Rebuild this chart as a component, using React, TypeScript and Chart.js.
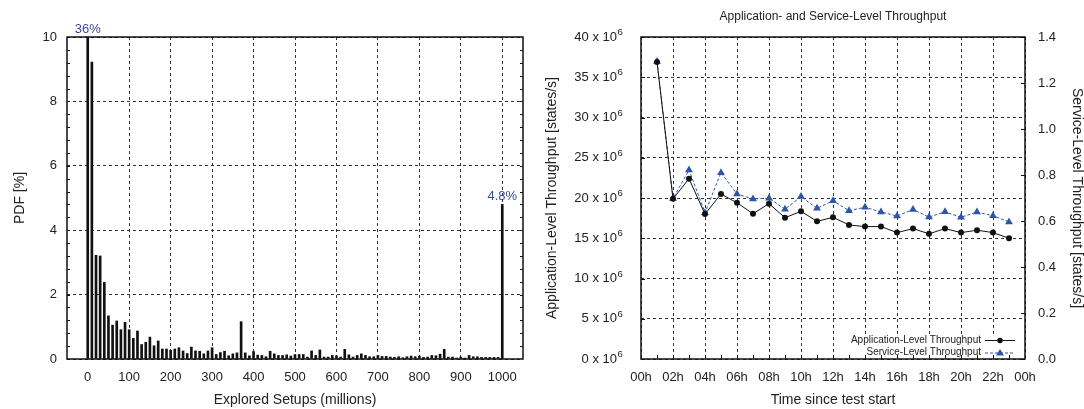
import React, { useEffect, useRef } from "react";
import { Chart, registerables } from "chart.js";
Chart.register(...registerables);

// ---------- Left chart data: PDF of explored setups ----------
const SETUP_BINS = [
  0, 10, 20, 30, 40, 50, 60, 70, 80, 90,
  100, 110, 120, 130, 140, 150, 160, 170, 180, 190,
  200, 210, 220, 230, 240, 250, 260, 270, 280, 290,
  300, 310, 320, 330, 340, 350, 360, 370, 380, 390,
  400, 410, 420, 430, 440, 450, 460, 470, 480, 490,
  500, 510, 520, 530, 540, 550, 560, 570, 580, 590,
  600, 610, 620, 630, 640, 650, 660, 670, 680, 690,
  700, 710, 720, 730, 740, 750, 760, 770, 780, 790,
  800, 810, 820, 830, 840, 850, 860, 870, 880, 890,
  900, 910, 920, 930, 940, 950, 960, 970, 980, 990,
  1000,
];
const PDF_VALUES = [
  36, 9.22, 3.22, 3.2, 2.38, 1.34, 1.05, 1.18, 0.91, 1.14,
  0.91, 0.64, 0.87, 0.45, 0.52, 0.68, 0.41, 0.56, 0.31, 0.31,
  0.27, 0.31, 0.35, 0.25, 0.17, 0.37, 0.25, 0.24, 0.16, 0.25,
  0.35, 0.14, 0.2, 0.24, 0.1, 0.16, 0.19, 1.16, 0.19, 0.1,
  0.23, 0.12, 0.11, 0.07, 0.24, 0.16, 0.11, 0.11, 0.13, 0.09,
  0.14, 0.14, 0.14, 0.06, 0.25, 0.11, 0.28, 0.06, 0.06, 0.11,
  0.1, 0.06, 0.3, 0.13, 0.06, 0.11, 0.16, 0.11, 0.07, 0.07,
  0.11, 0.08, 0.08, 0.06, 0.05, 0.07, 0.04, 0.07, 0.09, 0.07,
  0.09, 0.05, 0.06, 0.11, 0.1, 0.15, 0.3, 0.06, 0.06, 0.03,
  0.06, 0.03, 0.11, 0.07, 0.07, 0.05, 0.05, 0.05, 0.05, 0.05,
  4.8,
];
const SETUP_TICKS = [0, 100, 200, 300, 400, 500, 600, 700, 800, 900, 1000];
const PDF_TICKS = [0, 2, 4, 6, 8, 10];
const PEAK_LABELS = [
  { bin: 0, text: "36%" },
  { bin: 1000, text: "4.8%" },
];

// ---------- Right chart data: throughput ----------
const HOURS = [1, 2, 3, 4, 5, 6, 7, 8, 9, 10, 11, 12, 13, 14, 15, 16, 17, 18, 19, 20, 21, 22, 23];
// Application-level throughput in units of 10^6 states/s
const APP_THROUGHPUT = [
  36.9, 19.9, 22.4, 18.0, 20.5, 19.4, 18.05, 19.3, 17.55, 18.35, 17.1, 17.6,
  16.65, 16.45, 16.45, 15.7, 16.2, 15.55, 16.2, 15.7, 16.0, 15.7, 15.0,
];
// Service-level throughput in states/s
const SERVICE_THROUGHPUT = [
  1.293, 0.698, 0.822, 0.636, 0.81, 0.717, 0.696, 0.699, 0.651, 0.706, 0.655, 0.688,
  0.645, 0.66, 0.639, 0.622, 0.65, 0.617, 0.64, 0.616, 0.639, 0.623, 0.596,
];
const TIME_TICKS = [0, 2, 4, 6, 8, 10, 12, 14, 16, 18, 20, 22, 24];
const APP_TICKS = [0, 5, 10, 15, 20, 25, 30, 35, 40];
const APP_EXPONENT = "6";
const SERVICE_TICKS = [0, 0.2, 0.4, 0.6, 0.8, 1.0, 1.2, 1.4];
const RIGHT_TITLE = "Application- and Service-Level Throughput";

const FONT = "'Liberation Sans', Arial, Helvetica, sans-serif";
const TEXT = "#222";
const GRID = "#333";
const BLUE = "#2c55a8";
const LABEL_BLUE = "#3a4aa2";
const APP_TICK_PAD = 24;

Chart.defaults.font.family = FONT;
Chart.defaults.font.size = 13;
Chart.defaults.color = TEXT;

function drawFrame(chart: any) {
  const { ctx, chartArea: a } = chart;
  ctx.save();
  ctx.strokeStyle = "#111";
  ctx.lineWidth = 1.5;
  ctx.setLineDash([]);
  ctx.strokeRect(a.left, a.top, a.right - a.left, a.bottom - a.top);
  ctx.restore();
}

function tickMarks(chart: any, axisId: string, values: number[], side: string, len: number) {
  const { ctx, chartArea: a } = chart;
  const s = chart.scales[axisId];
  ctx.save();
  ctx.strokeStyle = "#111";
  ctx.lineWidth = 1;
  ctx.setLineDash([]);
  ctx.beginPath();
  for (const v of values) {
    const p = Math.round(s.getPixelForValue(v)) + 0.5;
    if (side === "left") { ctx.moveTo(a.left, p); ctx.lineTo(a.left + len, p); }
    if (side === "right") { ctx.moveTo(a.right, p); ctx.lineTo(a.right - len, p); }
    if (side === "bottom") { ctx.moveTo(p, a.bottom); ctx.lineTo(p, a.bottom - len); }
  }
  ctx.stroke();
  ctx.restore();
}

const leftPlugin = {
  id: "leftDecor",
  afterDatasetsDraw(chart: any) {
    const { ctx, scales } = chart;
    ctx.save();
    ctx.fillStyle = LABEL_BLUE;
    ctx.font = `13px ${FONT}`;
    ctx.textAlign = "center";
    ctx.textBaseline = "alphabetic";
    for (const l of PEAK_LABELS) {
      const idx = SETUP_BINS.indexOf(l.bin);
      const x = scales.x.getPixelForValue(l.bin);
      const v = Math.min(PDF_VALUES[idx], scales.y.max);
      const y = scales.y.getPixelForValue(v) - 4;
      ctx.fillText(l.text, x, y);
    }
    ctx.restore();
  },
  afterDraw(chart: any) {
    const minor: number[] = [];
    for (let i = 1; i < 25; i++) minor.push(i * 0.4);
    tickMarks(chart, "y", minor, "left", 3);
    tickMarks(chart, "y", minor, "right", 3);
    drawFrame(chart);
  },
};

const rightPlugin = {
  id: "rightDecor",
  beforeDatasetsDraw(chart: any) {
    const { ctx, chartArea: a } = chart;
    ctx.save();
    ctx.fillStyle = "#fff";
    ctx.fillRect(a.right - 180, a.bottom - 25, 178, 24);
    ctx.restore();
  },
  afterDraw(chart: any) {
    const { ctx, chartArea: a, scales } = chart;
    const hours: number[] = [];
    for (let i = 1; i < 24; i++) hours.push(i);
    tickMarks(chart, "x", hours, "bottom", 4);
    tickMarks(chart, "y1", SERVICE_TICKS, "right", 4);
    tickMarks(chart, "y", APP_TICKS, "left", 4);
    drawFrame(chart);

    // title centred over the plot area
    ctx.save();
    ctx.fillStyle = TEXT;
    ctx.font = `12px ${FONT}`;
    ctx.textAlign = "center";
    ctx.textBaseline = "middle";
    ctx.fillText(RIGHT_TITLE, (a.left + a.right) / 2, 17);
    ctx.restore();

    // exponent superscripts of the left tick labels
    ctx.save();
    ctx.fillStyle = TEXT;
    ctx.font = `9.5px ${FONT}`;
    ctx.textAlign = "left";
    ctx.textBaseline = "alphabetic";
    const sx = scales.y.right - APP_TICK_PAD + 0.5;
    for (const v of APP_TICKS) {
      const py = scales.y.getPixelForValue(v);
      ctx.fillText(APP_EXPONENT, sx, py - 2);
    }
    ctx.restore();

    // legend
    const entries = [
      { text: "Application-Level Throughput", color: "#111", dash: [] as number[], style: "circle" },
      { text: "Service-Level Throughput", color: BLUE, dash: [3, 2], style: "triangle" },
    ];
    const textRight = a.right - 44;
    const lineL = a.right - 40;
    const lineR = a.right - 10;
    ctx.save();
    ctx.font = `10px ${FONT}`;
    ctx.textAlign = "right";
    ctx.textBaseline = "middle";
    entries.forEach((e, i) => {
      const y = a.bottom - 19 + i * 12.5;
      ctx.fillStyle = TEXT;
      ctx.fillText(e.text, textRight, y);
      ctx.strokeStyle = e.color;
      ctx.lineWidth = 1;
      ctx.setLineDash(e.dash);
      ctx.beginPath();
      ctx.moveTo(lineL, y + 0.5);
      ctx.lineTo(lineR, y + 0.5);
      ctx.stroke();
      ctx.setLineDash([]);
      ctx.fillStyle = e.color;
      const cx = (lineL + lineR) / 2;
      ctx.beginPath();
      if (e.style === "circle") {
        ctx.arc(cx, y + 0.5, 2.8, 0, Math.PI * 2);
      } else {
        ctx.moveTo(cx, y - 3.5);
        ctx.lineTo(cx + 4, y + 3);
        ctx.lineTo(cx - 4, y + 3);
        ctx.closePath();
      }
      ctx.fill();
    });
    ctx.restore();
  },
};

const TITLE_FONT = { size: 14, lineHeight: 1.2 };

function LeftChart() {
  const ref = useRef<HTMLCanvasElement>(null);
  useEffect(() => {
    const chart = new Chart(ref.current as HTMLCanvasElement, {
      type: "bar",
      data: {
        datasets: [
          {
            data: SETUP_BINS.map((b, i) => ({ x: b, y: PDF_VALUES[i] })),
            backgroundColor: "#111",
            borderWidth: 0,
            barThickness: 2,
          },
        ],
      },
      options: {
        animation: false,
        responsive: false,
        layout: { padding: { top: 37, right: 17, left: 0, bottom: 0 } },
        plugins: { legend: { display: false }, tooltip: { enabled: false } },
        scales: {
          x: {
            type: "linear",
            min: -50,
            max: 1050,
            offset: false,
            afterBuildTicks: (s: any) => { s.ticks = SETUP_TICKS.map((v) => ({ value: v })); },
            afterFit: (s: any) => { s.height = 50; },
            ticks: { padding: 11, color: TEXT, maxRotation: 0, autoSkip: false, callback: (v: any) => String(v) },
            grid: { color: GRID, lineWidth: 1, drawTicks: false, offset: false },
            border: { display: false, dash: [3, 3] },
            title: {
              display: true,
              text: "Explored Setups (millions)",
              color: TEXT,
              font: TITLE_FONT,
              padding: { top: 0, bottom: 0.6 },
            },
          },
          y: {
            min: 0,
            max: 10,
            afterBuildTicks: (s: any) => { s.ticks = PDF_TICKS.map((v) => ({ value: v })); },
            afterFit: (s: any) => { s.width = 67; },
            ticks: { padding: 10, color: TEXT, callback: (v: any) => String(v) },
            grid: { color: GRID, lineWidth: 1, drawTicks: false },
            border: { display: false, dash: [3, 3] },
            title: {
              display: true,
              text: "PDF [%]",
              color: TEXT,
              font: TITLE_FONT,
              padding: { top: 11.4, bottom: 0 },
            },
          },
        },
      },
      plugins: [leftPlugin],
    } as any);
    return () => chart.destroy();
  }, []);
  return <canvas ref={ref} width={540} height={409} style={{ position: "absolute", left: 0, top: 0 }} />;
}

function RightChart() {
  const ref = useRef<HTMLCanvasElement>(null);
  useEffect(() => {
    const chart = new Chart(ref.current as HTMLCanvasElement, {
      type: "line",
      data: {
        datasets: [
          {
            label: "Application-Level Throughput",
            data: HOURS.map((h, i) => ({ x: h, y: APP_THROUGHPUT[i] })),
            yAxisID: "y",
            borderColor: "#111",
            backgroundColor: "#111",
            borderWidth: 1,
            pointStyle: "circle",
            pointRadius: 3,
            pointBorderWidth: 0,
            tension: 0,
          },
          {
            label: "Service-Level Throughput",
            data: HOURS.map((h, i) => ({ x: h, y: SERVICE_THROUGHPUT[i] })),
            yAxisID: "y1",
            borderColor: BLUE,
            backgroundColor: BLUE,
            borderWidth: 1,
            borderDash: [3, 2],
            pointStyle: "triangle",
            pointRadius: 4.5,
            pointBorderWidth: 0,
            tension: 0,
          },
        ],
      },
      options: {
        animation: false,
        responsive: false,
        layout: { padding: { top: 37, right: 0, left: 0, bottom: 0 } },
        plugins: {
          legend: { display: false },
          tooltip: { enabled: false },
        },
        scales: {
          x: {
            type: "linear",
            min: 0,
            max: 24,
            afterBuildTicks: (s: any) => { s.ticks = TIME_TICKS.map((v) => ({ value: v })); },
            afterFit: (s: any) => { s.height = 50; },
            ticks: {
              padding: 11,
              color: TEXT,
              maxRotation: 0,
              autoSkip: false,
              callback: (v: any) => `${String(Number(v) % 24).padStart(2, "0")}h`,
            },
            grid: { color: GRID, lineWidth: 1, drawTicks: false },
            border: { display: false, dash: [3, 3] },
            title: {
              display: true,
              text: "Time since test start",
              color: TEXT,
              font: TITLE_FONT,
              padding: { top: 0, bottom: 0.6 },
            },
          },
          y: {
            position: "left",
            min: 0,
            max: 40,
            afterBuildTicks: (s: any) => { s.ticks = APP_TICKS.map((v) => ({ value: v })); },
            afterFit: (s: any) => { s.width = 101; },
            ticks: { padding: APP_TICK_PAD, color: TEXT, callback: (v: any) => `${v} x 10` },
            grid: { color: GRID, lineWidth: 1, drawTicks: false },
            border: { display: false, dash: [3, 3] },
            title: {
              display: true,
              text: "Application-Level Throughput [states/s]",
              color: TEXT,
              font: TITLE_FONT,
              padding: { top: 3.6, bottom: 0 },
            },
          },
          y1: {
            position: "right",
            min: 0,
            max: 1.4,
            afterBuildTicks: (s: any) => { s.ticks = SERVICE_TICKS.map((v) => ({ value: v })); },
            afterFit: (s: any) => { s.width = 59; },
            ticks: { padding: 13, color: TEXT, callback: (v: any) => Number(v).toFixed(1) },
            grid: { display: false, drawOnChartArea: false, drawTicks: false },
            border: { display: false },
            title: {
              display: true,
              text: "Service-Level Throughput [states/s]",
              color: TEXT,
              font: { size: 14, lineHeight: 1.0 },
              padding: { top: 0, bottom: 0 },
            },
          },
        },
      },
      plugins: [rightPlugin],
    } as any);
    return () => chart.destroy();
  }, []);
  return <canvas ref={ref} width={544} height={409} style={{ position: "absolute", left: 540, top: 0 }} />;
}

export default function App() {
  return (
    <div style={{ position: "fixed", left: 0, top: 0, width: 1084, height: 409, background: "#fff", overflow: "hidden" }}>
      <LeftChart />
      <RightChart />
    </div>
  );
}
